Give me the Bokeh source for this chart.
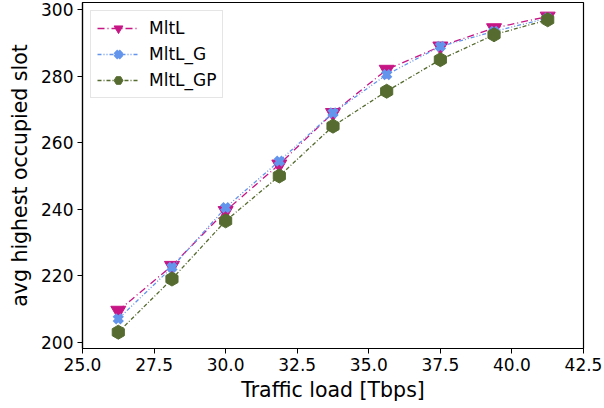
import numpy as np
from bokeh.plotting import figure
from bokeh.models import FixedTicker, Legend, LegendItem, NumeralTickFormatter, Range1d
from bokeh.embed import file_html
from bokeh.resources import INLINE

traffic = [26.25, 28.125, 30.0, 31.875, 33.75, 35.625, 37.5, 39.375, 41.25]
mltl = [209.5, 223.0, 239.5, 253.5, 269.0, 282.0, 289.0, 294.5, 298.0]
mltl_g = [207.0, 222.5, 240.5, 254.5, 269.0, 280.5, 289.0, 293.5, 297.5]
mltl_gp = [203.0, 219.0, 236.5, 250.0, 265.0, 275.5, 285.0, 292.5, 297.0]
x_ticks = [25.0, 27.5, 30.0, 32.5, 35.0, 37.5, 40.0, 42.5]
y_ticks = [200, 220, 240, 260, 280, 300]

FONT = "DejaVu Sans"

p = figure(width=604, height=408, output_backend="svg", toolbar_location=None,
           x_range=Range1d(25.0, 42.5), y_range=Range1d(198.1, 302.2),
           min_border_left=82, min_border_right=21, min_border_top=2, min_border_bottom=60)
p.background_fill_color = "white"
p.border_fill_color = "white"
p.outline_line_color = "black"
p.outline_line_width = 1.2
p.grid.visible = False

for ax in (p.xaxis[0], p.yaxis[0]):
    ax.axis_line_color = "black"
    ax.axis_line_width = 1.2
    ax.major_tick_out = 5
    ax.major_tick_in = 0
    ax.minor_tick_out = 0
    ax.minor_tick_in = 0
    ax.major_label_text_font = FONT
    ax.major_label_text_font_size = "17px"
    ax.major_label_text_color = "black"
    ax.axis_label_text_font = FONT
    ax.axis_label_text_font_size = "20.5px"
    ax.axis_label_text_font_style = "normal"
    ax.axis_label_text_color = "black"

p.xaxis.ticker = FixedTicker(ticks=x_ticks)
p.xaxis.formatter = NumeralTickFormatter(format="0.0")
p.yaxis.ticker = FixedTicker(ticks=y_ticks)
p.xaxis.axis_label = "Traffic load [Tbps]"
p.yaxis.axis_label = "avg highest occupied slot"
p.xaxis.axis_label_standoff = 4
p.yaxis.axis_label_standoff = 6
p.xaxis.major_label_standoff = 4
p.yaxis.major_label_standoff = 4

c1, c2, c3 = "#C71585", "#6495ED", "#556B2F"

l1 = p.line(traffic, mltl, line_color=c1, line_width=1.3, line_dash="7 3 1 3")
s1 = p.scatter(traffic, mltl, marker="inverted_triangle", size=15, fill_color=c1, line_color=c1)
l2 = p.line(traffic, mltl_g, line_color=c2, line_width=1.3, line_dash="4 2 1 2 1 2")
s2 = p.scatter(traffic, mltl_g, marker="x", size=11, line_width=5, line_color=c2, fill_color=c2)
l3 = p.line(traffic, mltl_gp, line_color=c3, line_width=1.3, line_dash="4 2 1 2")
s3 = p.scatter(traffic, mltl_gp, marker="hex", size=14, angle=np.pi / 6, fill_color=c3, line_color=c3)

legend = Legend(items=[
    LegendItem(label="MltL", renderers=[l1, s1]),
    LegendItem(label="MltL_G", renderers=[l2, s2]),
    LegendItem(label="MltL_GP", renderers=[l3, s3]),
], location="top_left")
legend.margin = 8
legend.padding = 6
legend.spacing = 4
legend.glyph_width = 42
legend.glyph_height = 22
legend.label_height = 22
legend.label_standoff = 10
legend.label_text_font = FONT
legend.label_text_font_size = "17px"
legend.label_text_color = "black"
legend.border_line_color = "#cccccc"
legend.border_line_width = 1
legend.background_fill_alpha = 0.8
p.add_layout(legend)

open("out.html", "w").write(file_html(p, INLINE))
